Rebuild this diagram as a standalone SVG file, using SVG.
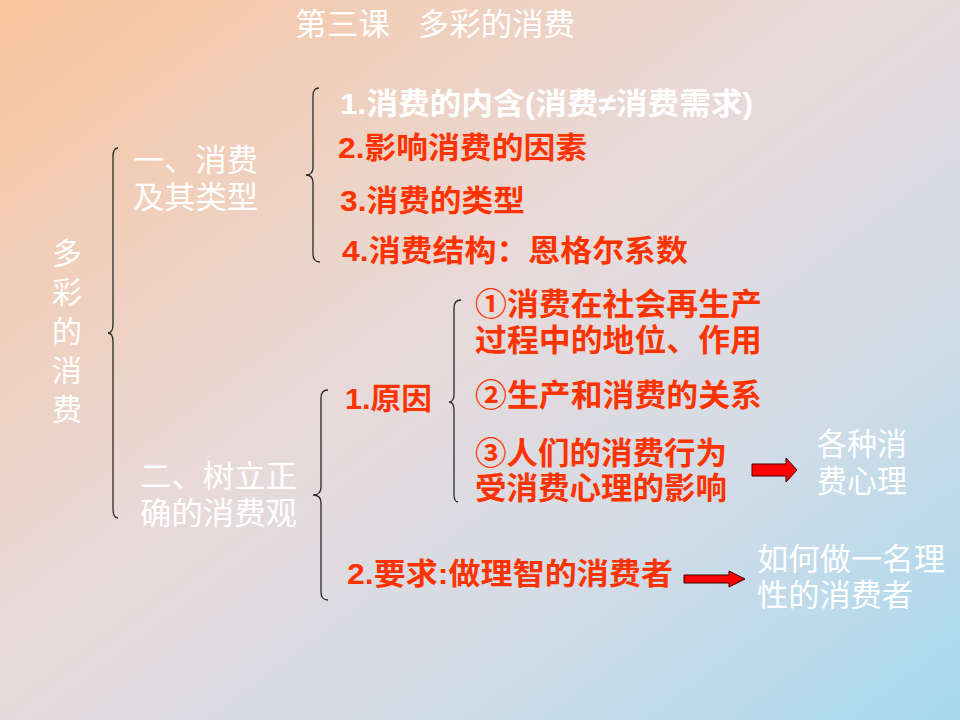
<svg xmlns="http://www.w3.org/2000/svg" width="960" height="720" viewBox="0 0 960 720">
<defs>
<linearGradient id="bg" x1="0" y1="0" x2="1" y2="1">
<stop offset="0" stop-color="#f8c49c"/>
<stop offset="0.45" stop-color="#e8dada"/>
<stop offset="0.7" stop-color="#d3dce6"/>
<stop offset="1" stop-color="#a6d9ef"/>
</linearGradient>
<style>
.t{font-family:"Liberation Sans","Noto Sans CJK SC",sans-serif;}
.w{fill:#ffffff;font-size:31px;}
.r{fill:#ff3300;font-weight:bold;font-size:30px;}
.wb{fill:#ffffff;font-weight:bold;font-size:30px;}
.c{fill:#ff3300;font-weight:bold;font-size:31px;}
.br{fill:none;stroke:#2a2a2a;stroke-width:1.3;}
.ar{fill:#ff0000;stroke:#3a0000;stroke-width:1;}
</style>
</defs>
<rect width="960" height="720" fill="url(#bg)"/>

<g id="title" class="t">
<text class="w" x="295" y="35" textLength="95" lengthAdjust="spacingAndGlyphs">第三课</text>
<text class="w" x="418" y="35" textLength="157" lengthAdjust="spacingAndGlyphs">多彩的消费</text>
</g>

<g id="root" class="t w" text-anchor="middle" font-size="30">
<text x="67" y="264" style="font-size:30px">多</text>
<text x="67" y="303" style="font-size:30px">彩</text>
<text x="67" y="342" style="font-size:30px">的</text>
<text x="67" y="381" style="font-size:30px">消</text>
<text x="67" y="420" style="font-size:30px">费</text>
</g>

<g id="sec1" class="t">
<text class="w" x="133" y="171" textLength="125" lengthAdjust="spacingAndGlyphs">一、消费</text>
<text class="w" x="133" y="208" textLength="125" lengthAdjust="spacingAndGlyphs">及其类型</text>
</g>

<g id="sec2" class="t">
<text class="w" x="140" y="487" textLength="157" lengthAdjust="spacingAndGlyphs">二、树立正</text>
<text class="w" x="140" y="524" textLength="157" lengthAdjust="spacingAndGlyphs">确的消费观</text>
</g>

<g id="item1" class="t"><text class="wb" x="340" y="114" textLength="413" lengthAdjust="spacingAndGlyphs">1.消费的内含(消费≠消费需求)</text></g>
<g id="item2" class="t"><text class="r" x="338" y="158" textLength="249" lengthAdjust="spacingAndGlyphs">2.影响消费的因素</text></g>
<g id="item3" class="t"><text class="r" x="340" y="211" textLength="185" lengthAdjust="spacingAndGlyphs">3.消费的类型</text></g>
<g id="item4" class="t"><text class="r" x="342" y="261" textLength="346" lengthAdjust="spacingAndGlyphs">4.消费结构：恩格尔系数</text></g>

<g id="reason" class="t"><text class="r" x="345" y="409" textLength="87" lengthAdjust="spacingAndGlyphs">1.原因</text></g>
<g id="reason1" class="t">
<text class="c" x="475" y="315" textLength="287" lengthAdjust="spacingAndGlyphs">①消费在社会再生产</text>
<text class="c" x="475" y="351" textLength="287" lengthAdjust="spacingAndGlyphs">过程中的地位、作用</text>
</g>
<g id="reason2" class="t"><text class="c" x="475" y="406" textLength="287" lengthAdjust="spacingAndGlyphs">②生产和消费的关系</text></g>
<g id="reason3" class="t">
<text class="c" x="475" y="464" textLength="252" lengthAdjust="spacingAndGlyphs">③人们的消费行为</text>
<text class="c" x="475" y="499" textLength="252" lengthAdjust="spacingAndGlyphs">受消费心理的影响</text>
</g>
<g id="psych" class="t">
<text class="w" x="817" y="455" textLength="90" lengthAdjust="spacingAndGlyphs">各种消</text>
<text class="w" x="817" y="492" textLength="90" lengthAdjust="spacingAndGlyphs">费心理</text>
</g>

<g id="require" class="t"><text class="r" x="347" y="584" textLength="326" lengthAdjust="spacingAndGlyphs">2.要求:做理智的消费者</text></g>
<g id="rational" class="t">
<text class="w" x="757" y="570" textLength="188" lengthAdjust="spacingAndGlyphs">如何做一名理</text>
<text class="w" x="757" y="606" textLength="156" lengthAdjust="spacingAndGlyphs">性的消费者</text>
</g>

<g id="connectors">
<path class="br" d="M118 148 Q113 148 113 157 L113 324 Q113 333 108 333 Q113 333 113 342 L113 509 Q113 518 118 518"/>
<path class="br" d="M319 88 Q313 88 313 96 L313 167 Q313 175 306 175 Q313 175 313 183 L313 254 Q313 262 320 262"/>
<path class="br" d="M461 300 Q454 300 454 308 L454 394 Q454 402 449 402 Q454 402 454 410 L454 494 Q454 502 458 502"/>
<path class="br" d="M328 390 Q321 390 321 398 L321 487 Q321 495 313 495 Q321 495 321 503 L321 592 Q321 600 328 600"/>
<polygon class="ar" points="752,464 786,464 786,458 797,470 786,482 786,476 752,476"/>
<polygon class="ar" points="684,575 729,575 729,571 745,579 729,587 729,583 684,583"/>
</g>
</svg>
